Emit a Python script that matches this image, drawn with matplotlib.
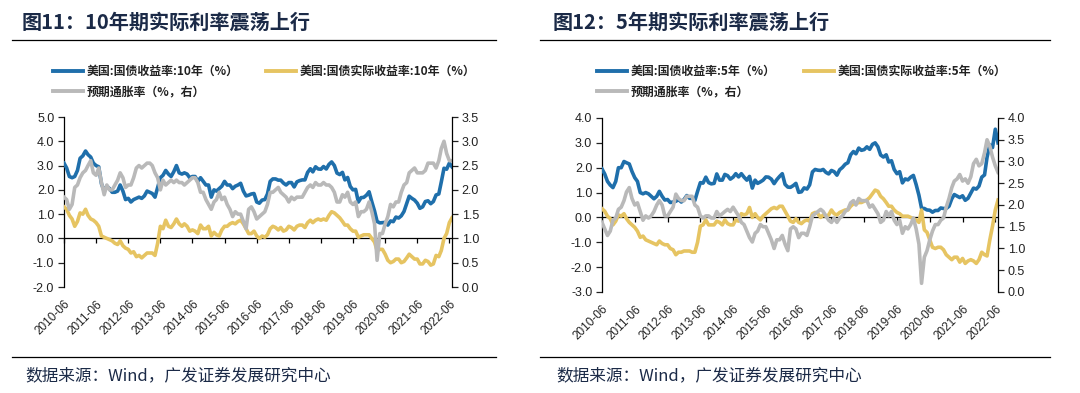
import matplotlib
matplotlib.use('Agg')
import matplotlib.pyplot as plt
from matplotlib.lines import Line2D
import pandas as pd

plt.rcParams['font.family'] = ['Liberation Sans', 'Noto Sans CJK SC', 'DejaVu Sans']
CJK = ['Noto Sans CJK SC', 'DejaVu Sans']

# monthly readings, 2010-06 .. 2022-07
dates = pd.date_range('2010-06-01', periods=146, freq='MS')
tick_dates = pd.date_range('2010-06-01', '2022-06-01', freq='12MS')
tick_labels = [d.strftime('%Y-%m') for d in tick_dates]

# Figure 11: 10Y
us10y = [
    3.10, 2.90, 2.55, 2.50, 2.55, 2.80, 3.30,
    3.40, 3.60, 3.45, 3.35, 3.10, 3.00, 2.95, 2.25, 1.95, 2.15, 2.05, 1.90,
    1.90, 1.95, 2.20, 1.95, 1.60, 1.65, 1.50, 1.60, 1.65, 1.70, 1.65, 1.75,
    1.95, 1.90, 1.85, 1.70, 2.10, 2.50, 2.60, 2.80, 2.65, 2.55, 2.75, 3.00,
    2.70, 2.65, 2.70, 2.65, 2.50, 2.55, 2.55, 2.35, 2.50, 2.35, 2.20, 2.20,
    1.70, 2.00, 1.95, 2.05, 2.15, 2.35, 2.20, 2.20, 2.05, 2.15, 2.20, 2.27,
    1.95, 1.75, 1.78, 1.83, 1.85, 1.50, 1.45, 1.58, 1.60, 1.83, 2.35, 2.45,
    2.45, 2.40, 2.40, 2.28, 2.20, 2.30, 2.30, 2.12, 2.33, 2.38, 2.41, 2.41,
    2.72, 2.87, 2.74, 2.95, 2.86, 2.85, 2.96, 2.86, 3.05, 3.15, 3.00, 2.69,
    2.63, 2.72, 2.41, 2.51, 2.14, 2.00, 2.02, 1.50, 1.68, 1.69, 1.78, 1.92,
    1.51, 1.13, 0.70, 0.64, 0.65, 0.66, 0.55, 0.72, 0.69, 0.88, 0.84, 0.93,
    1.11, 1.44, 1.74, 1.65, 1.58, 1.45, 1.24, 1.30, 1.52, 1.55, 1.43, 1.52,
    1.79, 1.83, 2.32, 2.89, 2.85, 3.10, 2.95,
]
real10y = [
    1.30, 1.20, 0.95, 0.80, 0.50, 0.70, 1.05,
    1.00, 1.20, 0.95, 0.80, 0.75, 0.65, 0.50, 0.10, 0.05, 0.00, -0.05, -0.10,
    -0.20, -0.25, -0.10, -0.30, -0.40, -0.45, -0.60, -0.55, -0.75, -0.70, -0.80, -0.70,
    -0.60, -0.60, -0.60, -0.70, -0.20, 0.50, 0.40, 0.75, 0.50, 0.45, 0.60, 0.80,
    0.60, 0.50, 0.60, 0.50, 0.30, 0.35, 0.30, 0.20, 0.55, 0.40, 0.40, 0.50,
    0.10, 0.25, 0.15, 0.10, 0.35, 0.50, 0.50, 0.60, 0.65, 0.60, 0.70, 0.75,
    0.60, 0.40, 0.20, 0.20, 0.30, 0.10, 0.00, 0.10, 0.05, 0.15, 0.40, 0.50,
    0.45, 0.35, 0.45, 0.30, 0.35, 0.50, 0.45, 0.35, 0.50, 0.55, 0.55, 0.45,
    0.65, 0.75, 0.65, 0.75, 0.80, 0.75, 0.80, 0.75, 0.95, 1.10, 1.05, 0.95,
    0.85, 0.70, 0.55, 0.55, 0.40, 0.30, 0.30, 0.05, 0.10, 0.15, 0.15, 0.15,
    0.00, -0.15, -0.50, -0.45, -0.45, -0.65, -0.90, -1.00, -0.95, -0.85, -0.85, -1.00,
    -0.95, -0.80, -0.65, -0.75, -0.85, -0.85, -1.05, -1.05, -0.90, -0.95, -1.10, -1.05,
    -0.70, -0.75, -0.50, 0.00, 0.20, 0.65, 0.85,
]
bei10y = [
    1.85, 1.80, 1.60, 1.70, 2.05, 2.10, 2.25,
    2.35, 2.40, 2.50, 2.60, 2.35, 2.30, 2.45, 2.15, 1.90, 2.10, 2.00, 2.00,
    2.10, 2.20, 2.35, 2.25, 2.05, 2.10, 2.10, 2.25, 2.45, 2.50, 2.45, 2.50,
    2.55, 2.55, 2.50, 2.35, 2.25, 2.00, 2.20, 2.10, 2.15, 2.20, 2.15, 2.20,
    2.15, 2.15, 2.10, 2.15, 2.20, 2.25, 2.25, 2.15, 1.95, 1.95, 1.80, 1.70,
    1.60, 1.75, 1.80, 1.95, 1.80, 1.85, 1.70, 1.60, 1.45, 1.55, 1.50, 1.50,
    1.35, 1.20, 1.60, 1.65, 1.55, 1.40, 1.45, 1.50, 1.55, 1.70, 1.95, 1.95,
    2.00, 2.05, 1.95, 1.90, 1.85, 1.75, 1.85, 1.80, 1.85, 1.85, 1.85, 1.95,
    2.05, 2.10, 2.05, 2.15, 2.10, 2.10, 2.15, 2.10, 2.10, 2.05, 1.95, 1.75,
    1.75, 1.90, 1.85, 1.95, 1.75, 1.70, 1.75, 1.45, 1.55, 1.55, 1.60, 1.75,
    1.55, 1.30, 0.55, 1.10, 1.10, 1.30, 1.45, 1.70, 1.65, 1.75, 1.75, 1.95,
    2.10, 2.15, 2.35, 2.40, 2.45, 2.35, 2.35, 2.35, 2.40, 2.55, 2.55, 2.55,
    2.45, 2.60, 2.85, 3.00, 2.75, 2.60, 2.60,
]

# Figure 12: 5Y
us5y = [
    1.95, 1.75, 1.45, 1.30, 1.20, 1.45, 2.00,
    2.00, 2.25, 2.20, 2.15, 1.85, 1.60, 1.45, 1.00, 0.95, 1.00, 0.95, 0.85,
    0.75, 0.85, 1.05, 0.85, 0.70, 0.72, 0.60, 0.62, 0.65, 0.72, 0.62, 0.72,
    0.88, 0.77, 0.77, 0.68, 1.05, 1.40, 1.38, 1.62, 1.40, 1.35, 1.37, 1.75,
    1.50, 1.50, 1.73, 1.68, 1.54, 1.62, 1.76, 1.63, 1.76, 1.62, 1.50, 1.65,
    1.18, 1.50, 1.37, 1.43, 1.50, 1.63, 1.62, 1.54, 1.36, 1.52, 1.65, 1.76,
    1.33, 1.22, 1.21, 1.28, 1.37, 1.01, 1.03, 1.19, 1.14, 1.31, 1.83, 1.93,
    1.90, 1.89, 1.93, 1.81, 1.75, 1.89, 1.84, 1.70, 1.92, 2.01, 2.14, 2.20,
    2.52, 2.65, 2.56, 2.79, 2.70, 2.73, 2.84, 2.74, 2.94, 3.00, 2.84, 2.51,
    2.43, 2.52, 2.23, 2.28, 1.93, 1.76, 1.84, 1.39, 1.55, 1.51, 1.62, 1.69,
    1.32, 0.89, 0.37, 0.36, 0.30, 0.29, 0.21, 0.28, 0.28, 0.38, 0.36, 0.36,
    0.45, 0.75, 0.92, 0.86, 0.80, 0.87, 0.69, 0.77, 0.98, 1.18, 1.14, 1.26,
    1.62, 1.71, 2.42, 2.92, 2.81, 3.55, 3.00,
]
real5y = [
    0.35, 0.25, 0.05, -0.05, -0.30, -0.15, 0.10,
    0.05, 0.15, -0.05, -0.20, -0.30, -0.40, -0.55, -0.80, -0.75, -0.90, -0.95, -1.00,
    -1.05, -1.10, -0.95, -1.05, -1.10, -1.10, -1.25, -1.30, -1.50, -1.40, -1.40, -1.35,
    -1.35, -1.35, -1.40, -1.40, -1.00, -0.35, -0.30, -0.10, -0.30, -0.30, -0.30, -0.15,
    -0.20, -0.30, -0.10, -0.25, -0.30, -0.30, -0.10, -0.15, 0.15, 0.10, 0.15, 0.40,
    0.00, 0.15, 0.00, -0.10, 0.05, 0.15, 0.25, 0.35, 0.40, 0.35, 0.45, 0.45,
    0.25, 0.05, -0.15, -0.20, -0.05, -0.20, -0.25, -0.15, -0.10, -0.15, 0.15, 0.20,
    0.15, 0.00, 0.10, 0.05, 0.10, 0.30, 0.15, 0.10, 0.20, 0.25, 0.30, 0.30,
    0.45, 0.55, 0.55, 0.60, 0.60, 0.65, 0.70, 0.80, 0.95, 1.10, 1.05, 0.85,
    0.75, 0.60, 0.45, 0.45, 0.30, 0.20, 0.15, 0.05, 0.05, 0.05, 0.00, -0.05,
    -0.10, -0.20, 0.30, -0.50, -0.60, -0.90, -1.20, -1.25, -1.20, -1.20, -1.30, -1.50,
    -1.60, -1.70, -1.60, -1.60, -1.80, -1.65, -1.85, -1.75, -1.70, -1.75, -1.85, -1.70,
    -1.40, -1.50, -1.55, -0.90, -0.35, 0.30, 0.70,
]
bei5y = [
    1.60, 1.45, 1.30, 1.40, 1.65, 1.70, 1.90,
    1.95, 2.10, 2.30, 2.40, 2.15, 2.00, 2.05, 1.85, 1.65, 1.75, 1.70, 1.75,
    1.85, 2.00, 2.10, 2.00, 1.75, 1.75, 1.85, 1.95, 2.25, 2.15, 2.10, 2.10,
    2.20, 2.20, 2.20, 2.00, 1.95, 1.75, 1.70, 1.75, 1.75, 1.70, 1.70, 1.85,
    1.75, 1.80, 1.85, 1.90, 1.85, 1.95, 1.85, 1.75, 1.60, 1.55, 1.40, 1.25,
    1.15, 1.35, 1.40, 1.55, 1.50, 1.50, 1.35, 1.20, 1.00, 1.20, 1.20, 1.30,
    1.10, 0.95, 1.45, 1.50, 1.45, 1.25, 1.35, 1.35, 1.30, 1.50, 1.75, 1.80,
    1.85, 1.90, 1.85, 1.75, 1.65, 1.60, 1.70, 1.60, 1.70, 1.75, 1.85, 1.90,
    2.05, 2.10, 2.00, 2.15, 2.10, 2.10, 2.10, 1.95, 2.00, 1.90, 1.80, 1.60,
    1.65, 1.85, 1.75, 1.85, 1.65, 1.55, 1.65, 1.35, 1.50, 1.45, 1.55, 1.70,
    1.45, 1.10, 0.20, 0.80, 0.95, 1.20, 1.40, 1.55, 1.55, 1.65, 1.70, 1.95,
    2.15, 2.40, 2.55, 2.60, 2.70, 2.55, 2.60, 2.50, 2.65, 2.95, 3.05, 2.90,
    2.95, 3.20, 3.50, 3.35, 3.10, 2.90, 2.75,
]

BLUE = '#1f6fab'
GOLD = '#e6c462'
GREY = '#b9b9b9'
INK = '#1b2a47'
TXT = '#222222'

fig = plt.figure(figsize=(10.8, 3.93), dpi=100)
W, H = 1080, 393


def fx(px):
    return px / W


def fy(py):
    return 1 - py / H


def panel(rect, nominal, real, bei, ylim, y2lim, y2step, title, tx, labels, leg_x, colsp, sep):
    ax = fig.add_axes(rect)
    ax2 = ax.twinx()
    ax.plot(dates, nominal, color=BLUE, lw=2.6, zorder=3)
    ax.plot(dates, real, color=GOLD, lw=2.6, zorder=3)
    ax.axhline(0, color='black', lw=0.9, zorder=2)
    ax2.plot(dates, bei, color=GREY, lw=2.6)

    ax.set_xlim(dates[0], dates[-1])
    ax.set_ylim(*ylim)
    ax.set_yticks(range(ylim[0], ylim[1] + 1))
    ax.set_yticklabels([f'{v:.1f}' for v in range(ylim[0], ylim[1] + 1)])
    ax2.set_ylim(*y2lim)
    n = int(round((y2lim[1] - y2lim[0]) / y2step))
    t2 = [y2lim[0] + i * y2step for i in range(n + 1)]
    ax2.set_yticks(t2)
    ax2.set_yticklabels([f'{v:.1f}' for v in t2])

    for a in (ax, ax2):
        a.spines['top'].set_visible(False)
        a.spines['bottom'].set_visible(False)
    ax.spines['right'].set_visible(False)
    ax2.spines['left'].set_visible(False)
    ax.spines['left'].set_linewidth(0.9)
    ax2.spines['right'].set_linewidth(0.9)
    ax.tick_params(axis='y', direction='out', length=4, width=0.9, labelsize=9, colors=TXT, pad=3)
    ax2.tick_params(axis='y', direction='out', length=4, width=0.9, labelsize=9, colors=TXT, pad=3)

    # year ticks sit on the zero line, labels at the bottom
    ax.spines['bottom'].set_position(('data', 0))
    ax.set_xticks(tick_dates)
    ax.tick_params(axis='x', direction='out', length=3.5, width=0.9, labelbottom=False)
    sec = ax.secondary_xaxis('bottom')
    sec.set_xticks(tick_dates)
    sec.set_xticklabels(tick_labels, rotation=45, ha='right', rotation_mode='anchor')
    sec.tick_params(axis='x', length=0, labelsize=8.5, colors=TXT, pad=8)
    sec.spines['bottom'].set_visible(False)

    # title, rules and source
    fig.text(fx(tx), fy(22), title, family=CJK, fontsize=14.5, fontweight='bold',
             color=INK, va='center', ha='left')
    fig.add_artist(Line2D([fx(sep[0]), fx(sep[1])], [fy(40), fy(40)], color='black', lw=0.9))
    fig.add_artist(Line2D([fx(sep[0]), fx(sep[1])], [fy(357), fy(357)], color='black', lw=0.9))
    fig.text(fx(tx + 3), fy(376), '数据来源：Wind，广发证券发展研究中心', family=CJK,
             fontsize=12, color=INK, va='center', ha='left')

    handles = [Line2D([], [], color=BLUE, lw=2.8), Line2D([], [], color=GREY, lw=2.8),
               Line2D([], [], color=GOLD, lw=2.8)]
    leg = fig.legend(handles, [labels[0], labels[2], labels[1]], ncol=2, loc='upper left',
                     bbox_to_anchor=(fx(leg_x), fy(65)), frameon=False, borderpad=0,
                     borderaxespad=0, handlelength=2.5, handletextpad=0.3,
                     columnspacing=colsp, labelspacing=0.6,
                     prop={'family': CJK, 'size': 8.6, 'weight': 'bold'})
    for t in leg.get_texts():
        t.set_color(TXT)
    return ax


panel([fx(64), fy(287), fx(452 - 64), (287 - 117) / H], us10y, real10y, bei10y,
      (-2, 5), (0.0, 3.5), 0.5, '图11：10年期实际利率震荡上行', 22,
      ['美国:国债收益率:10年（%）', '美国:国债实际收益率:10年（%）', '预期通胀率（%，右）'],
      53, 2.3, (12, 496))
panel([fx(602), fy(292), fx(998 - 602), (292 - 118) / H], us5y, real5y, bei5y,
      (-3, 4), (0.0, 4.0), 0.5, '图12：5年期实际利率震荡上行', 553,
      ['美国:国债收益率:5年（%）', '美国:国债实际收益率:5年（%）', '预期通胀率（%，右）'],
      597, 2.4, (540, 1050))

fig.savefig('out.png', dpi=100)
